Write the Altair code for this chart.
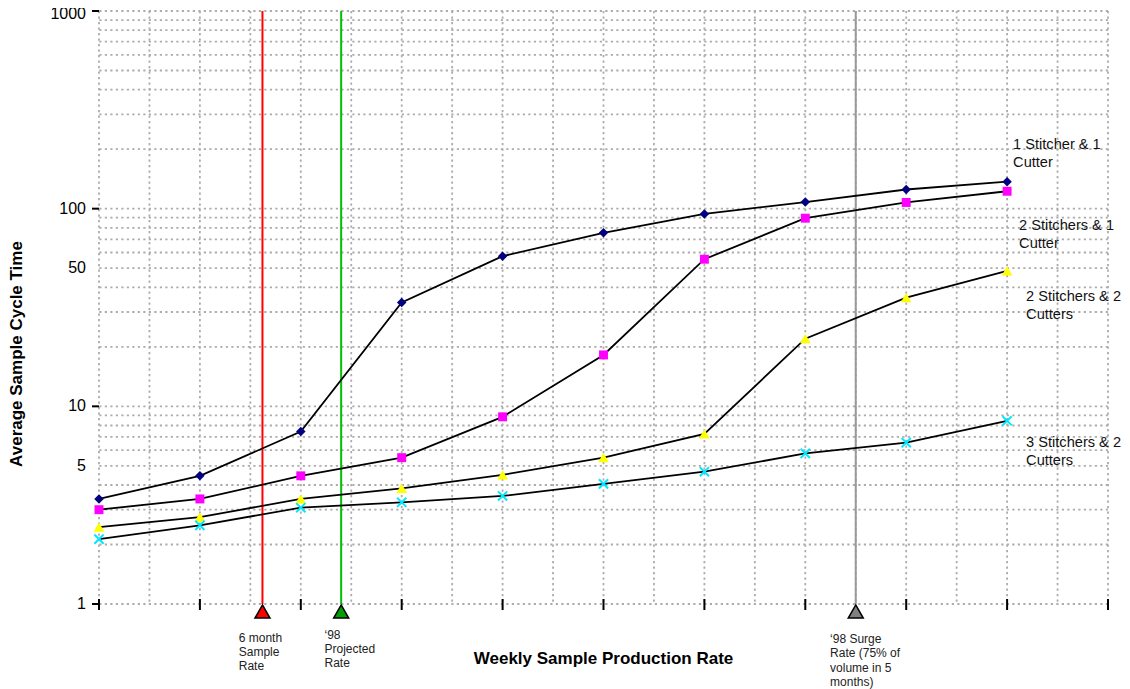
import altair as alt
import pandas as pd

# ---------------- data ----------------
x_index = list(range(10))
series_names = [
    "1 Stitcher & 1 Cutter",
    "2 Stitchers & 1 Cutter",
    "2 Stitchers & 2 Cutters",
    "3 Stitchers & 2 Cutters",
]
s1 = [3.4, 4.45, 7.45, 33.5, 57.5, 75.5, 94.0, 108.0, 125.0, 137.0]
s2 = [3.0, 3.4, 4.45, 5.5, 8.85, 18.2, 55.5, 89.5, 107.5, 122.5]
s3 = [2.45, 2.75, 3.4, 3.85, 4.5, 5.5, 7.25, 22.0, 35.5, 48.5]
s4 = [2.13, 2.5, 3.07, 3.27, 3.52, 4.05, 4.67, 5.78, 6.55, 8.45]
series_values = [s1, s2, s3, s4]
series_label_lines = [
    ["1 Stitcher & 1", "Cutter"],
    ["2 Stitchers & 1", "Cutter"],
    ["2 Stitchers & 2", "Cutters"],
    ["3 Stitchers & 2", "Cutters"],
]

y_label_values = [1, 5, 10, 50, 100, 1000]
y_tick_values = [1, 10, 100, 1000]
y_grid_values = [m * 10 ** e for e in range(3) for m in range(1, 10)] + [1000]
x_tick_values = list(range(11))
x_grid_values = [i / 2 for i in range(21)]
x_title = "Weekly Sample Production Rate"
y_title = "Average Sample Cycle Time"

ref_x = [1.62, 2.4, 7.5]
ref_label_lines = [
    ["6 month", "Sample", "Rate"],
    ["\u201898", "Projected", "Rate"],
    ["\u201898 Surge", "Rate (75% of", "volume in 5", "months)"],
]

# ---------------- styles ----------------
W, H = 1009, 593
FONT = "Liberation Sans"
GRID = "#acacac"
marker_styles = [
    dict(shape="diamond", filled=True, color="#000080", size=90),
    dict(shape="square", filled=True, color="#ff00ff", size=80),
    dict(shape="triangle-up", filled=True, color="#ffff00", size=115),
    dict(shape="M-1,-1L1,1M-1,1L1,-1", filled=False, color="#00e8ff", size=85, strokeWidth=2),
]
label_offsets = [(6, -36.6), (12, 34.4), (19, 26.0), (19, 22.2)]
ref_styles = [
    dict(line="#ff0000", fill="#ff0000"),
    dict(line="#00c000", fill="#00a000"),
    dict(line="#999999", fill="#808080"),
]
ref_text_offsets = [(-23.7, 28.5), (-16.7, 25.8), (-25.7, 30.1)]
# triangle hanging just below the axis line (path units = sqrt(size)/2 px)
BOTTOM_TRIANGLE = "M0,0.13L1,1.87L-1,1.87Z"

xs = alt.Scale(domain=[0, 10], nice=False, zero=False)
ys = alt.Scale(type="log", domain=[1, 1000], nice=False)

rows = []
for name, vals in zip(series_names, series_values):
    for xi, v in zip(x_index, vals):
        rows.append({"series": name, "x": xi, "y": v})
df = pd.DataFrame(rows)
one = pd.DataFrame({"k": [0]})
ylab = pd.DataFrame({"v": y_label_values})

layers = []

# grid
layers.append(
    alt.Chart(pd.DataFrame({"v": y_grid_values}))
    .mark_rule(color=GRID, strokeDash=[2.2, 3.3], strokeWidth=1.8)
    .encode(y=alt.Y("v:Q", scale=ys, axis=None))
)
layers.append(
    alt.Chart(pd.DataFrame({"v": x_grid_values}))
    .mark_rule(color=GRID, strokeDash=[2.2, 3.3], strokeWidth=1.8)
    .encode(x=alt.X("v:Q", scale=xs, axis=None))
)

# axis decorations: y ticks + labels, x ticks, titles
layers.append(
    alt.Chart(pd.DataFrame({"v": y_tick_values}))
    .mark_rule(color="black", strokeWidth=2)
    .encode(
        y=alt.Y("v:Q", scale=ys, axis=None),
        x=alt.value(-7),
        x2=alt.value(0),
    )
)
# the top label sits a little lower so it stays inside the page
for cond, ddy in (("datum.v < 1000", 0), ("datum.v >= 1000", 2.5)):
    layers.append(
        alt.Chart(ylab)
        .transform_filter(cond)
        .mark_text(align="right", baseline="middle", font=FONT, fontSize=16,
                   color="black", dx=-13, dy=ddy)
        .encode(
            y=alt.Y("v:Q", scale=ys, axis=None),
            x=alt.datum(0, scale=xs, axis=None),
            text=alt.Text("v:Q", format="d"),
        )
    )
layers.append(
    alt.Chart(pd.DataFrame({"v": x_tick_values}))
    .mark_rule(color="black", strokeWidth=2)
    .encode(
        x=alt.X("v:Q", scale=xs, axis=None),
        y=alt.value(H - 5),
        y2=alt.value(H + 6),
    )
)
layers.append(
    alt.Chart(one)
    .mark_text(align="center", baseline="middle", font=FONT, fontSize=17,
               fontWeight="bold", color="black")
    .encode(x=alt.value(W / 2), y=alt.value(H + 55), text=alt.value(x_title))
)
layers.append(
    alt.Chart(one)
    .mark_text(align="center", baseline="middle", font=FONT, fontSize=17,
               fontWeight="bold", color="black", angle=270)
    .encode(x=alt.value(-82), y=alt.value(343), text=alt.value(y_title))
)

# reference lines
for rx, st in zip(ref_x, ref_styles):
    layers.append(
        alt.Chart(one)
        .mark_rule(color=st["line"], strokeWidth=2)
        .encode(
            x=alt.datum(rx, scale=xs, axis=None),
            y=alt.datum(1000, scale=ys, axis=None),
            y2=alt.datum(1),
        )
    )

# series lines
layers.append(
    alt.Chart(df)
    .mark_line(color="black", strokeWidth=1.8)
    .encode(
        x=alt.X("x:Q", scale=xs, axis=None),
        y=alt.Y("y:Q", scale=ys, axis=None),
        detail="series:N",
    )
)

# markers
for name, st in zip(series_names, marker_styles):
    kw = dict(shape=st["shape"], filled=st["filled"], size=st["size"], opacity=1)
    if st["filled"]:
        kw["fill"] = st["color"]
        kw["strokeWidth"] = 0
    else:
        kw["stroke"] = st["color"]
        kw["strokeWidth"] = st["strokeWidth"]
    layers.append(
        alt.Chart(df)
        .transform_filter(alt.datum.series == name)
        .mark_point(**kw)
        .encode(x=alt.X("x:Q", scale=xs, axis=None), y=alt.Y("y:Q", scale=ys, axis=None))
    )

# series labels at the right end
for name, vals, lines, (dx, dy) in zip(series_names, series_values, series_label_lines, label_offsets):
    layers.append(
        alt.Chart(one)
        .mark_text(
            align="left", baseline="middle", font=FONT, fontSize=14.6,
            lineHeight=18.3, color="#111111", dx=dx, dy=dy,
        )
        .encode(
            x=alt.datum(x_index[-1], scale=xs, axis=None),
            y=alt.datum(vals[-1], scale=ys, axis=None),
            text=alt.value(lines),
        )
    )

# bottom triangles and their labels
for rx, st, lines, (dx, dy) in zip(ref_x, ref_styles, ref_label_lines, ref_text_offsets):
    layers.append(
        alt.Chart(one)
        .mark_point(
            shape=BOTTOM_TRIANGLE, filled=True, size=225, fill=st["fill"],
            stroke="black", strokeWidth=1.5, opacity=1,
        )
        .encode(
            x=alt.datum(rx, scale=xs, axis=None),
            y=alt.datum(1, scale=ys, axis=None),
        )
    )
    layers.append(
        alt.Chart(one)
        .mark_text(
            align="left", baseline="top", font=FONT, fontSize=12,
            lineHeight=14.3, color="#222222", dx=dx, dy=dy,
        )
        .encode(
            x=alt.datum(rx, scale=xs, axis=None),
            y=alt.datum(1, scale=ys, axis=None),
            text=alt.value(lines),
        )
    )

chart = (
    alt.layer(*layers)
    .properties(
        width=W,
        height=H,
        autosize=alt.AutoSizeParams(type="none"),
        padding={"left": 91, "top": 3, "right": 14, "bottom": 87},
        background="white",
    )
    .configure_view(stroke=None)
)

chart.save("out.html", embed_options={"renderer": "svg", "actions": False})
